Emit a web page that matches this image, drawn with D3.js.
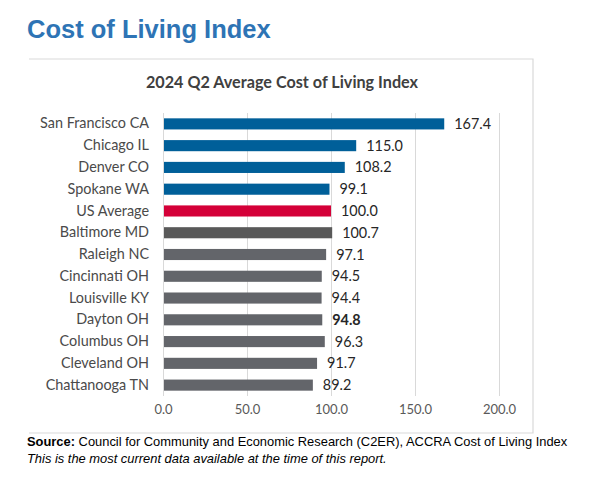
<!DOCTYPE html>
<html>
<head>
<meta charset="utf-8">
<script src="https://cdn.jsdelivr.net/npm/d3@7"></script>
<style>
  body { margin: 0; background: #fff; }
  svg { display: block; }
</style>
</head>
<body>
<svg id="chart" width="596" height="500"></svg>
<script>
const cities = [
  "San Francisco CA", "Chicago IL", "Denver CO", "Spokane WA", "US Average",
  "Baltimore MD", "Raleigh NC", "Cincinnati OH", "Louisville KY", "Dayton OH",
  "Columbus OH", "Cleveland OH", "Chattanooga TN",
];
const values = [167.4, 115.0, 108.2, 99.1, 100.0, 100.7, 97.1, 94.5, 94.4, 94.8, 96.3, 91.7, 89.2];
const groups = ["west", "west", "west", "west", "us", "base", "other", "other", "other", "home", "other", "other", "other"];
const xTicks = [0, 50, 100, 150, 200];

const fills = { west: "#005f99", us: "#d40038", base: "#595959", other: "#63656a", home: "#63656a" };

const svg = d3.select("#chart");
const labelFont = "Lato, 'Open Sans', sans-serif";

// page heading
svg.append("text")
  .attr("x", 27).attr("y", 38)
  .attr("font-family", "'Liberation Sans', Arial, sans-serif")
  .attr("font-weight", "bold")
  .attr("font-size", 25.5)
  .attr("fill", "#2e74b5")
  .text("Cost of Living Index");

// chart frame (top, right, bottom)
const frame = { left: 29, top: 59, right: 533, bottom: 433 };
svg.append("path")
  .attr("d", `M${frame.left},${frame.top}H${frame.right}V${frame.bottom}H${frame.left}`)
  .attr("fill", "none")
  .attr("stroke", "#d9d9d9")
  .attr("stroke-width", 1.2);

svg.append("text")
  .attr("x", 282).attr("y", 88)
  .attr("text-anchor", "middle")
  .attr("font-family", labelFont)
  .attr("font-weight", "bold")
  .attr("font-size", 16.2)
  .attr("fill", "#404040")
  .text("2024 Q2 Average Cost of Living Index");

const x = d3.scaleLinear().domain([0, 200]).range([163, 499]);
const y = d3.scaleBand().domain(cities).range([113, 396]).paddingInner(0.49).paddingOuter(0.245);

// gridlines
svg.append("g")
  .selectAll("line")
  .data(xTicks)
  .join("line")
  .attr("x1", (d) => x(d) + 0.5).attr("x2", (d) => x(d) + 0.5)
  .attr("y1", 113).attr("y2", 396)
  .attr("stroke", "#d9d9d9")
  .attr("stroke-width", 1);

// x axis labels
const xAxis = d3.axisBottom(x).tickValues(xTicks).tickFormat(d3.format(".1f")).tickSize(0).tickPadding(0);
svg.append("g")
  .attr("transform", "translate(0,405)")
  .call(xAxis)
  .call((g) => g.select(".domain").remove())
  .call((g) => g.selectAll("text")
    .attr("font-family", labelFont)
    .attr("font-size", 13)
    .attr("fill", "#595959"));

// y axis labels
const yAxis = d3.axisLeft(y).tickSize(0).tickPadding(0);
svg.append("g")
  .attr("transform", "translate(149,0)")
  .call(yAxis)
  .call((g) => g.select(".domain").remove())
  .call((g) => g.selectAll("text")
    .attr("font-family", labelFont)
    .attr("font-size", 14.4)
    .attr("fill", "#4a4a4a"));

const rows = cities.map((c, i) => ({ city: c, value: values[i], group: groups[i] }));

svg.append("g")
  .selectAll("rect")
  .data(rows)
  .join("rect")
  .attr("x", x(0) + 1)
  .attr("y", (d) => y(d.city))
  .attr("width", (d) => x(d.value) - x(0) - 1)
  .attr("height", y.bandwidth())
  .attr("fill", (d) => fills[d.group]);

svg.append("g")
  .selectAll("text")
  .data(rows)
  .join("text")
  .attr("x", (d) => x(d.value) + 10)
  .attr("y", (d) => y(d.city) + y.bandwidth() / 2)
  .attr("dy", "0.35em")
  .attr("font-family", labelFont)
  .attr("font-size", 14.4)
  .attr("font-weight", (d) => (d.group === "home" ? "bold" : "normal"))
  .attr("fill", "#262626")
  .text((d) => d3.format(".1f")(d.value));

// source notes
const src = svg.append("text")
  .attr("x", 27).attr("y", 446)
  .attr("font-family", "'Liberation Sans', Arial, sans-serif")
  .attr("font-size", 12.9)
  .attr("fill", "#000");
src.append("tspan").attr("font-weight", "bold").text("Source:");
src.append("tspan").text(" Council for Community and Economic Research (C2ER), ACCRA Cost of Living Index");

svg.append("text")
  .attr("x", 27).attr("y", 463)
  .attr("font-family", "'Liberation Sans', Arial, sans-serif")
  .attr("font-size", 12.9)
  .attr("font-style", "italic")
  .attr("fill", "#000")
  .text("This is the most current data available at the time of this report.");
</script>
</body>
</html>
